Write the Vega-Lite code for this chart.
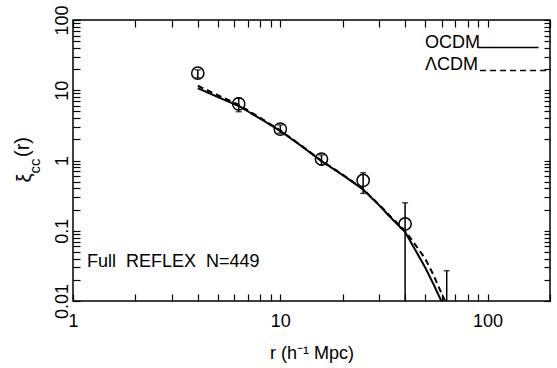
{
  "$schema": "https://vega.github.io/schema/vega-lite/v6.json",
  "width": 477,
  "height": 281,
  "autosize": "none",
  "padding": {"left": 73, "top": 20, "right": 7, "bottom": 67},
  "config": {
    "font": "Liberation Sans",
    "view": {"stroke": "black", "strokeWidth": 1.5},
    "axis": {"labelFont": "Liberation Sans", "titleFont": "Liberation Sans", "labelColor": "black", "titleColor": "black", "tickColor": "black", "labelFontSize": 18, "titleFontSize": 18, "titleFontWeight": "normal", "grid": false, "domain": false, "tickWidth": 1.2, "labelOverlap": false, "labelFlush": false, "labelBound": false}
  },
  "datasets": {
    "model": [
      {"model": "OCDM", "r": 4, "xi": 10.7},
      {"model": "OCDM", "r": 5, "xi": 8.0},
      {"model": "OCDM", "r": 6.3, "xi": 5.97},
      {"model": "OCDM", "r": 8, "xi": 3.95},
      {"model": "OCDM", "r": 10, "xi": 2.63},
      {"model": "OCDM", "r": 12.6, "xi": 1.62},
      {"model": "OCDM", "r": 15.8, "xi": 0.98},
      {"model": "OCDM", "r": 20, "xi": 0.62},
      {"model": "OCDM", "r": 25, "xi": 0.39},
      {"model": "OCDM", "r": 30, "xi": 0.23},
      {"model": "OCDM", "r": 34, "xi": 0.155},
      {"model": "OCDM", "r": 40, "xi": 0.096},
      {"model": "OCDM", "r": 45, "xi": 0.052},
      {"model": "OCDM", "r": 50, "xi": 0.03},
      {"model": "OCDM", "r": 55, "xi": 0.017},
      {"model": "OCDM", "r": 60, "xi": 0.0098},
      {"model": "ΛCDM", "r": 4, "xi": 11.6},
      {"model": "ΛCDM", "r": 5, "xi": 8.5},
      {"model": "ΛCDM", "r": 6.3, "xi": 6.2},
      {"model": "ΛCDM", "r": 8, "xi": 4.05},
      {"model": "ΛCDM", "r": 10, "xi": 2.68},
      {"model": "ΛCDM", "r": 12.6, "xi": 1.64},
      {"model": "ΛCDM", "r": 15.8, "xi": 0.99},
      {"model": "ΛCDM", "r": 20, "xi": 0.63},
      {"model": "ΛCDM", "r": 25, "xi": 0.395},
      {"model": "ΛCDM", "r": 30, "xi": 0.235},
      {"model": "ΛCDM", "r": 34, "xi": 0.16},
      {"model": "ΛCDM", "r": 40, "xi": 0.1},
      {"model": "ΛCDM", "r": 45, "xi": 0.062},
      {"model": "ΛCDM", "r": 50, "xi": 0.04},
      {"model": "ΛCDM", "r": 55, "xi": 0.023},
      {"model": "ΛCDM", "r": 58, "xi": 0.016},
      {"model": "ΛCDM", "r": 62.5, "xi": 0.0098}
    ],
    "obs": [
      {"r": 4, "xi": 17.5, "lo": 15.0, "hi": 19.5},
      {"r": 6.3, "xi": 6.4, "lo": 4.95, "hi": 7.7},
      {"r": 10, "xi": 2.8, "lo": 2.45, "hi": 3.2},
      {"r": 15.8, "xi": 1.05, "lo": 0.87, "hi": 1.2},
      {"r": 25.1, "xi": 0.52, "lo": 0.34, "hi": 0.67},
      {"r": 40, "xi": 0.125, "lo": 0.001, "hi": 0.25},
      {"r": 63.5, "xi": 0.003, "lo": 0.0003, "hi": 0.027}
    ],
    "legendlines": [
      {"model": "OCDM", "x1": 90, "x2": 176, "y": 40.5},
      {"model": "ΛCDM", "x1": 92, "x2": 194, "y": 19.1}
    ],
    "legendtext": [
      {"t": "OCDM", "x": 49.9, "y": 40},
      {"t": "ΛCDM", "x": 49.9, "y": 19.4},
      {"t": "Full\u00a0 REFLEX\u00a0 N=449", "x": 1.168, "y": 0.0305}
    ]
  },
  "resolve": {"axis": {"x": "independent", "y": "independent"}},
  "layer": [
    {
      "data": {"name": "model"},
      "mark": {"type": "line", "color": "black", "strokeWidth": 2, "clip": true},
      "encoding": {
        "x": {"field": "r", "type": "quantitative", "scale": {"type": "log", "domain": [1, 200], "nice": false},
          "axis": {"orient": "bottom", "title": "r (h⁻¹ Mpc)", "titlePadding": 14,
            "values": [1,2,3,4,5,6,7,8,9,10,20,30,40,50,60,70,80,90,100,200],
            "labelExpr": "datum.value==1?'1':datum.value==10?'10':datum.value==100?'100':''",
            "tickSize": -7,
            "labelPadding": 18}},
        "y": {"field": "xi", "type": "quantitative", "scale": {"type": "log", "domain": [0.01, 100], "nice": false},
          "axis": {"orient": "left", "title": null,
            "values": [0.01,0.02,0.03,0.04,0.05,0.06,0.07,0.08,0.09,0.1,0.2,0.3,0.4,0.5,0.6,0.7,0.8,0.9,1,2,3,4,5,6,7,8,9,10,20,30,40,50,60,70,80,90,100],
            "labelExpr": "datum.value==0.01?'0.01':datum.value==0.1?'0.1':datum.value==1?'1':datum.value==10?'10':datum.value==100?'100':''",
            "tickSize": -7,
            "labelAngle": 270, "labelAlign": "center", "labelBaseline": "bottom", "labelPadding": 9}},
        "strokeDash": {"field": "model", "type": "nominal", "scale": {"domain": ["OCDM", "ΛCDM"], "range": [[1, 0], [6, 4]]}, "legend": null}
      }
    },
    {
      "data": {"name": "obs"},
      "mark": {"type": "rule", "color": "black", "strokeWidth": 1.5, "clip": true},
      "encoding": {
        "x": {"field": "r", "type": "quantitative", "scale": {"type": "log", "domain": [1, 200], "nice": false}, "axis": null},
        "y": {"field": "lo", "type": "quantitative", "scale": {"type": "log", "domain": [0.01, 100], "nice": false}, "axis": null},
        "y2": {"field": "hi"}
      }
    },
    {
      "data": {"name": "obs"},
      "mark": {"type": "tick", "orient": "horizontal", "color": "black", "thickness": 1.5, "size": 6, "clip": true},
      "encoding": {
        "x": {"field": "r", "type": "quantitative", "scale": {"type": "log", "domain": [1, 200], "nice": false}, "axis": null},
        "y": {"field": "hi", "type": "quantitative", "scale": {"type": "log", "domain": [0.01, 100], "nice": false}, "axis": null}
      }
    },
    {
      "data": {"name": "obs"},
      "mark": {"type": "tick", "orient": "horizontal", "color": "black", "thickness": 1.5, "size": 6, "clip": true},
      "encoding": {
        "x": {"field": "r", "type": "quantitative", "scale": {"type": "log", "domain": [1, 200], "nice": false}, "axis": null},
        "y": {"field": "lo", "type": "quantitative", "scale": {"type": "log", "domain": [0.01, 100], "nice": false}, "axis": null}
      }
    },
    {
      "data": {"name": "obs"},
      "mark": {"type": "point", "shape": "circle", "filled": false, "color": "black", "strokeWidth": 1.5, "size": 150, "opacity": 1, "clip": true},
      "encoding": {
        "x": {"field": "r", "type": "quantitative", "scale": {"type": "log", "domain": [1, 200], "nice": false},
          "axis": {"orient": "top", "title": null, "labels": false,
            "values": [1,2,3,4,5,6,7,8,9,10,20,30,40,50,60,70,80,90,100,200],
            "tickSize": -7}},
        "y": {"field": "xi", "type": "quantitative", "scale": {"type": "log", "domain": [0.01, 100], "nice": false},
          "axis": {"orient": "right", "title": null, "labels": false,
            "values": [0.01,0.02,0.03,0.04,0.05,0.06,0.07,0.08,0.09,0.1,0.2,0.3,0.4,0.5,0.6,0.7,0.8,0.9,1,2,3,4,5,6,7,8,9,10,20,30,40,50,60,70,80,90,100],
            "tickSize": -6}}
      }
    },
    {
      "data": {"name": "legendlines"},
      "mark": {"type": "rule", "color": "black", "strokeWidth": 1.5},
      "encoding": {
        "x": {"field": "x1", "type": "quantitative", "scale": {"type": "log", "domain": [1, 200], "nice": false}, "axis": null},
        "x2": {"field": "x2"},
        "y": {"field": "y", "type": "quantitative", "scale": {"type": "log", "domain": [0.01, 100], "nice": false}, "axis": null},
        "strokeDash": {"field": "model", "type": "nominal", "legend": null}
      }
    },
    {
      "data": {"name": "legendtext"},
      "mark": {"type": "text", "align": "left", "baseline": "alphabetic", "fontSize": 18, "font": "Liberation Sans", "color": "black"},
      "encoding": {
        "x": {"field": "x", "type": "quantitative", "scale": {"type": "log", "domain": [1, 200], "nice": false}, "axis": null},
        "y": {"field": "y", "type": "quantitative", "scale": {"type": "log", "domain": [0.01, 100], "nice": false}, "axis": null},
        "text": {"field": "t"}
      }
    },
    {
      "data": {"values": [{"t": "ξ", "x": 0.587, "y": 0.563}, {"t": "(r)", "x": 0.574, "y": 1.556}]},
      "mark": {"type": "text", "align": "center", "baseline": "middle", "fontSize": 20, "angle": 270, "font": "Liberation Sans", "color": "black", "clip": false},
      "encoding": {
        "x": {"field": "x", "type": "quantitative", "scale": {"type": "log", "domain": [1, 200], "nice": false}, "axis": null},
        "y": {"field": "y", "type": "quantitative", "scale": {"type": "log", "domain": [0.01, 100], "nice": false}, "axis": null},
        "text": {"field": "t"}
      }
    },
    {
      "data": {"values": [{"t": "cc", "x": 0.656, "y": 0.835}]},
      "mark": {"type": "text", "align": "center", "baseline": "middle", "fontSize": 15, "angle": 270, "font": "Liberation Sans", "color": "black", "clip": false},
      "encoding": {
        "x": {"field": "x", "type": "quantitative", "scale": {"type": "log", "domain": [1, 200], "nice": false}, "axis": null},
        "y": {"field": "y", "type": "quantitative", "scale": {"type": "log", "domain": [0.01, 100], "nice": false}, "axis": null},
        "text": {"field": "t"}
      }
    }
  ]
}
